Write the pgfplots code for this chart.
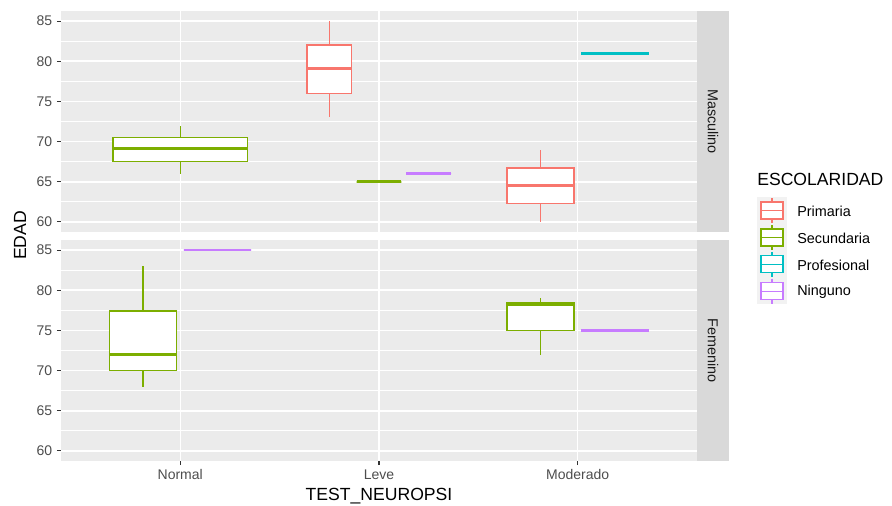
\documentclass[border=0pt]{standalone}
\usepackage{pgfplots}
\pgfplotsset{compat=1.18}
\usepgfplotslibrary{statistics}
\usepackage{fontspec}
\setmainfont{Liberation Sans}
\definecolor{panel}{HTML}{EBEBEB}
\definecolor{stripc}{HTML}{D9D9D9}
\definecolor{keybg}{HTML}{F2F2F2}
\definecolor{ticklab}{HTML}{4D4D4D}
\definecolor{tickc}{HTML}{333333}
\definecolor{striptext}{HTML}{1A1A1A}
\definecolor{cPri}{HTML}{F8766D}
\definecolor{cSec}{HTML}{7CAE00}
\definecolor{cPro}{HTML}{00BFC4}
\definecolor{cNin}{HTML}{C77CFF}
\pgfplotsset{
  panelstyle/.style={
    scale only axis, width=477pt, height=165.75pt,
    xmin=0.4, xmax=3.6, ymin=58.75, ymax=86.25,
    axis background/.style={fill=panel},
    axis line style={draw=none},
    xtick={1,2,3}, ytick={60,65,70,75,80,85},
    minor ytick={62.5,67.5,72.5,77.5,82.5},
    grid=both,
    major grid style={white, line width=1.1pt},
    minor grid style={white, line width=0.55pt},
    tick pos=left, tick align=outside,
    major tick length=3pt, minor tick length=0pt,
    tick style={color=tickc, line width=0.8pt},
    /pgf/number format/assume math mode=true,
    yticklabel style={font=\fontsize{10.5}{12}\selectfont, text=ticklab},
    xticklabel style={font=\fontsize{10.5}{12}\selectfont, text=ticklab},
  },
  bx/.style={line width=1.1pt, solid, fill=white,
    /pgfplots/boxplot/draw direction=y,
    /pgfplots/boxplot/whisker extend=0,
    /pgfplots/boxplot/every median/.style={line width=2.1pt}},
}
\begin{document}
\begin{tikzpicture}
\path[use as bounding box] (0,0) rectangle (669pt,-379.5pt);

% Masculino panel
\begin{axis}[panelstyle, at={(45.75pt,-8.25pt)}, anchor=north west,
  xticklabels={}, xtick style={draw=none}]
\addplot+[bx, draw=cSec, boxplot prepared={draw position=1, box extend=0.675,
  lower whisker=66, lower quartile=67.5, median=69.1, upper quartile=70.5, upper whisker=72}] coordinates {};
\addplot+[bx, draw=cPri, boxplot prepared={draw position=1.75, box extend=0.225,
  lower whisker=73, lower quartile=76, median=79.1, upper quartile=82, upper whisker=85}] coordinates {};
\addplot+[bx, draw=cSec, boxplot prepared={draw position=2, box extend=0.225,
  lower whisker=65, lower quartile=65, median=65, upper quartile=65, upper whisker=65}] coordinates {};
\addplot+[bx, draw=cNin, boxplot prepared={draw position=2.25, box extend=0.225,
  lower whisker=66, lower quartile=66, median=66, upper quartile=66, upper whisker=66}] coordinates {};
\addplot+[bx, draw=cPri, boxplot prepared={draw position=2.8125, box extend=0.3375,
  lower whisker=60, lower quartile=62.3, median=64.5, upper quartile=66.7, upper whisker=69}] coordinates {};
\addplot+[bx, draw=cPro, boxplot prepared={draw position=3.1875, box extend=0.3375,
  lower whisker=81, lower quartile=81, median=81, upper quartile=81, upper whisker=81}] coordinates {};
\end{axis}

% Femenino panel
\begin{axis}[panelstyle, at={(45.75pt,-180pt)}, anchor=north west,
  xticklabels={Normal,Leve,Moderado}]
\addplot+[bx, draw=cSec, boxplot prepared={draw position=0.8125, box extend=0.3375,
  lower whisker=68, lower quartile=70, median=72, upper quartile=77.4, upper whisker=83}] coordinates {};
\addplot+[bx, draw=cNin, boxplot prepared={draw position=1.1875, box extend=0.3375,
  lower whisker=85, lower quartile=85, median=85, upper quartile=85, upper whisker=85}] coordinates {};
\addplot+[bx, draw=cSec, boxplot prepared={draw position=2.8125, box extend=0.3375,
  lower whisker=72, lower quartile=75, median=78.2, upper quartile=78.5, upper whisker=79}] coordinates {};
\addplot+[bx, draw=cNin, boxplot prepared={draw position=3.1875, box extend=0.3375,
  lower whisker=75, lower quartile=75, median=75, upper quartile=75, upper whisker=75}] coordinates {};
\end{axis}

\begin{scope}[x=0.75pt, y=-0.75pt]
\fill[stripc] (697,11) rectangle (729,232);
\fill[stripc] (697,240) rectangle (729,461);
\node[rotate=-90, inner sep=0pt, text=striptext, font=\fontsize{10.8}{12}\selectfont] at (713,121.5) {Masculino};
\node[rotate=-90, inner sep=0pt, text=striptext, font=\fontsize{10.8}{12}\selectfont] at (713,350.5) {Femenino};
\node[rotate=90, inner sep=0pt, font=\fontsize{13.2}{15}\selectfont] at (20,235.5) {EDAD};
\node[inner sep=0pt, font=\fontsize{13.2}{15}\selectfont] at (379,496.5) {TEST\_NEUROPSI};
\node[anchor=west, inner sep=0pt, font=\fontsize{13.2}{15}\selectfont] at (757,179) {ESCOLARIDAD};
\fill[keybg] (757,197) rectangle (787,304);
\foreach \c/\l [count=\i from 0] in {cPri/Primaria, cSec/Secundaria, cPro/Profesional, cNin/Ninguno} {
  \pgfmathsetmacro\yc{210.5+26.9*\i}
  \draw[\c, line width=1pt] (772,\yc-12.5) -- (772,\yc+12.5);
  \draw[\c, line width=1pt, fill=white] (761,\yc-8.5) rectangle (783,\yc+8.5);
  \draw[\c, line width=1pt] (761,\yc) -- (783,\yc);
  \node[anchor=west, inner sep=0pt, font=\fontsize{10.8}{12}\selectfont] at (797,\yc+0.8) {\l};
}
\end{scope}
\end{tikzpicture}
\end{document}
